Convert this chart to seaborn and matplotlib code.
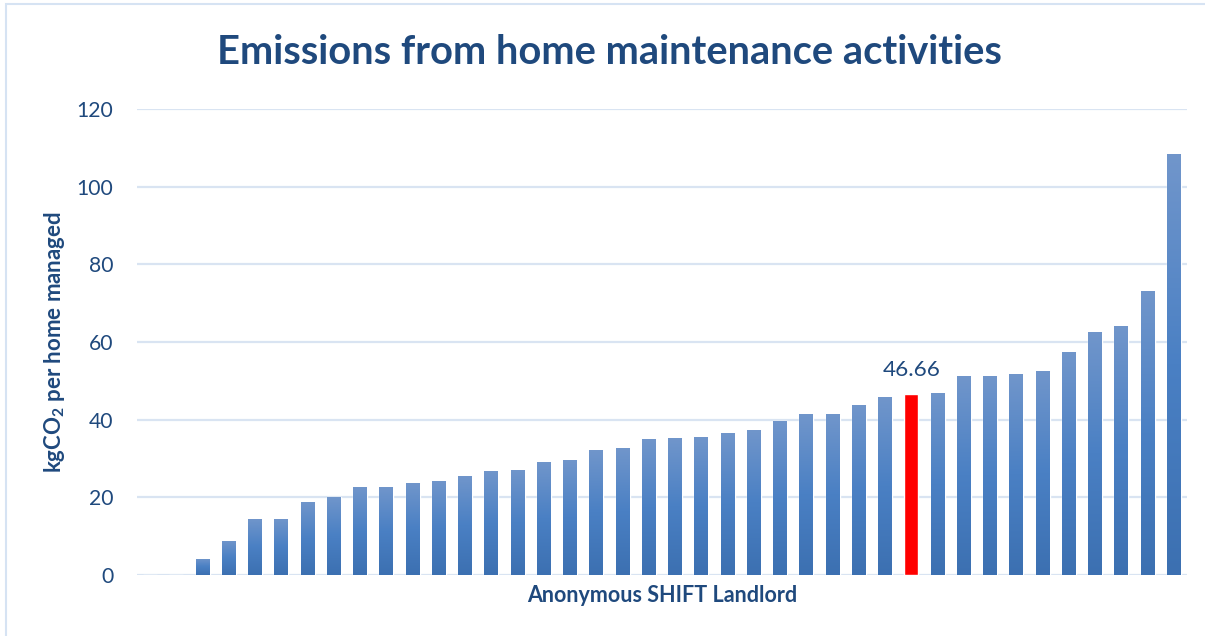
import numpy as np
import pandas as pd
import matplotlib
matplotlib.use("Agg")
import matplotlib.pyplot as plt
import seaborn as sns
from matplotlib.colors import LinearSegmentedColormap
from matplotlib.patches import Rectangle

# ---------------- data ----------------
landlords = [f"L{i+1}" for i in range(40)]
emissions = [0.0, 0.0, 4.2, 8.8, 14.5, 14.5, 18.9, 20.2, 22.7, 22.7,
             23.8, 24.3, 25.6, 26.9, 27.1, 29.2, 29.7, 32.3, 32.8, 34.9,
             35.4, 35.6, 36.6, 37.4, 39.7, 41.5, 41.5, 43.9, 45.9, 46.66,
             46.95, 51.3, 51.3, 51.8, 52.6, 57.5, 62.7, 64.2, 73.2, 108.5]
highlight_label = "46.66"
highlight_index = 29
y_ticks = [0, 20, 40, 60, 80, 100, 120]

title = "Emissions from home maintenance activities"
x_title = "Anonymous SHIFT Landlord"
y_title = r"kgCO$_\mathbf{2}$ per home managed"

df = pd.DataFrame({"landlord": landlords, "value": emissions})

# ---------------- style ----------------
sns.set_theme(style="white")
plt.rcParams["font.family"] = ["Lato", "DejaVu Sans"]
plt.rcParams["mathtext.fontset"] = "custom"
plt.rcParams["mathtext.rm"] = "Lato"
plt.rcParams["mathtext.bf"] = "Lato:bold"

text_color = "#1f497d"
grid_color = "#d9e4f2"

fig = plt.figure(figsize=(12.05, 6.36), dpi=100)
ax = fig.add_axes([137 / 1205, 1 - 575 / 636, 1050 / 1205, 466 / 636])

sns.barplot(data=df, x="landlord", y="value", color="#4a7fc1",
            width=0.53, ax=ax, saturation=1)

ax.set_ylim(0, 120)
ax.set_yticks(y_ticks)
ax.set_xticks([])
ax.yaxis.grid(True, color=grid_color, linewidth=1.6)
ax.set_axisbelow(True)
for s in ax.spines.values():
    s.set_visible(False)
ax.tick_params(axis="y", length=0, pad=17, labelsize=15.2, labelcolor=text_color)

# gradient fill for bars
cmap = LinearSegmentedColormap.from_list(
    "excel", ["#3c70b1", "#4a80c4", "#7196cb"])
grad = np.linspace(0, 1, 256).reshape(-1, 1)
patches = list(ax.patches)
for i, p in enumerate(patches):
    if i == highlight_index:
        p.set_facecolor("#ff0000")
        continue
    x0, y0 = p.get_x(), p.get_y()
    w, h = p.get_width(), p.get_height()
    if h <= 0:
        continue
    im = ax.imshow(grad, cmap=cmap, origin="lower", aspect="auto",
                   extent=(x0, x0 + w, y0, y0 + h), zorder=p.get_zorder() + 0.1)
    im.set_clip_path(p)
ax.set_xlim(-0.5, len(landlords) - 0.5)
ax.set_ylim(0, 120)

# data label on highlighted bar
labels = ["" for _ in landlords]
labels[highlight_index] = highlight_label
ax.bar_label(ax.containers[0], labels=labels, padding=10, fontsize=16.2,
             color=text_color)

ax.set_xlabel(x_title, fontsize=15.5, fontweight="bold", color=text_color)
ax.xaxis.set_label_coords(0.5, -0.022)
ax.set_ylabel(y_title, fontsize=16, fontweight="bold", color=text_color)
ax.yaxis.set_label_coords(-0.067, 0.5)

fig.text(0.506, 1 - 52 / 636, title, ha="center", va="center",
         fontsize=28.7, fontweight="bold", color=text_color)

# light border of the chart area
fig.patches.append(Rectangle((6 / 1205, -0.1), 1.2, 1 - 4 / 636 + 0.1,
                             transform=fig.transFigure, fill=False,
                             edgecolor="#d6e3f3", linewidth=1.5))

fig.savefig("out.png", dpi=100)
